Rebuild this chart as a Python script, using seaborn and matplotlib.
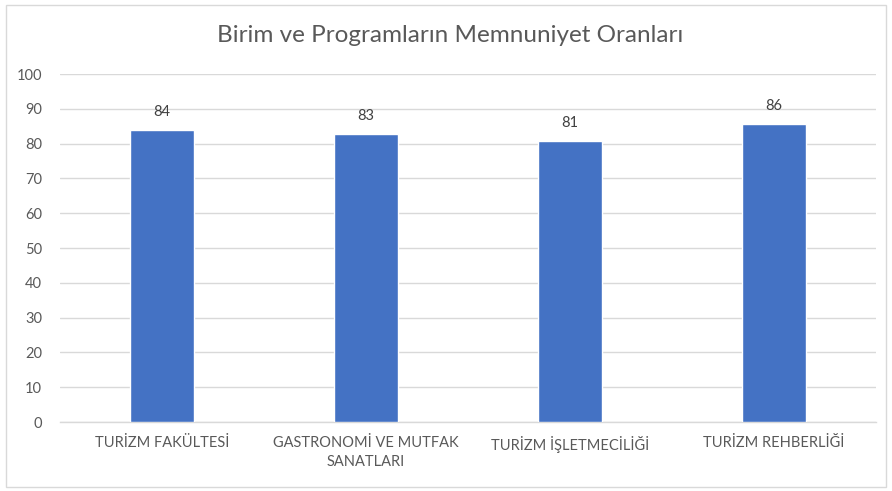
import matplotlib
matplotlib.use("Agg")
import matplotlib.pyplot as plt
import seaborn as sns
import pandas as pd
from matplotlib.patches import Rectangle

categories = ["TURİZM FAKÜLTESİ", "GASTRONOMİ VE MUTFAK\nSANATLARI", "TURİZM İŞLETMECİLİĞİ", "TURİZM REHBERLİĞİ"]
values = [83.9, 82.7, 80.7, 85.5]
yticks = [0, 10, 20, 30, 40, 50, 60, 70, 80, 90, 100]
title = "Birim ve Programların Memnuniyet Oranları"

sns.set_theme(style="white")
plt.rcParams["font.family"] = ["Lato", "DejaVu Sans"]

df = pd.DataFrame({"cat": categories, "val": values})

fig = plt.figure(figsize=(8.92, 4.91), dpi=100)
ax = fig.add_axes([60/892, 1-422/491, (876-60)/892, (422-74)/491])

sns.barplot(data=df, x="cat", y="val", color="#4472C4", width=0.31, ax=ax,
            saturation=1, zorder=3)

ax.set_ylim(0, 100)
ax.set_xlim(-0.5, 3.5)
ax.set_yticks(yticks)
ax.set_yticklabels([str(t) for t in yticks])
ax.yaxis.grid(True, color="#D9D9D9", linewidth=1, zorder=0)
ax.set_axisbelow(True)
for s in ["top", "right", "left"]:
    ax.spines[s].set_visible(False)
ax.spines["bottom"].set_color("#D9D9D9")
ax.spines["bottom"].set_linewidth(1)
ax.set_xlabel("")
ax.set_ylabel("")
ax.tick_params(axis="y", length=0, pad=13, labelsize=10.5, labelcolor="#595959")
ax.tick_params(axis="x", length=0, pad=10, labelsize=10.5, labelcolor="#595959")
for lbl in ax.get_xticklabels():
    lbl.set_linespacing(1.45)

for i, v in enumerate(values):
    ax.text(i, v + 3.2, f"{v:.0f}", ha="center", va="bottom", fontsize=10.5, color="#404040")

fig.text(450/892, 1-35/491, title, ha="center", va="center", fontsize=17.5, color="#595959")

fig.patches.append(Rectangle((6/892, 4/491), 880/892, 482/491, transform=fig.transFigure,
                             fill=False, edgecolor="#D9D9D9", linewidth=1))

fig.savefig("out.png", dpi=100)
